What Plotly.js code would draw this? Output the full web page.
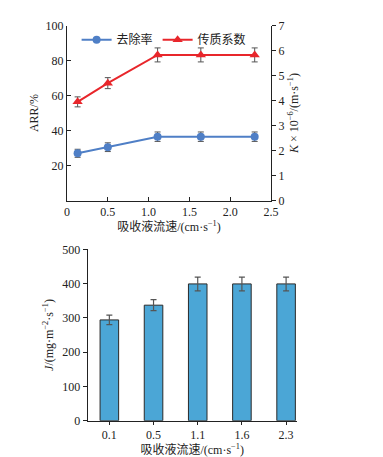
<!DOCTYPE html>
<html>
<head>
<meta charset="utf-8">
<script src="https://cdn.plot.ly/plotly-3.0.1.min.js"></script>
<style>html,body{margin:0;padding:0;background:#fff;}#chart{width:383px;height:457px;}</style>
</head>
<body>
<div id="chart"></div>
<script>
// Top chart data
var flowRates = [0.13, 0.5, 1.11, 1.64, 2.3];
var removalRate = [27, 30.5, 36.5, 36.5, 36.5];
var removalErr = [2.3, 2.5, 2.7, 2.7, 2.7];
var massCoef = [3.95, 4.7, 5.83, 5.83, 5.83];
var massErr = [0.2, 0.22, 0.28, 0.28, 0.28];
var xTickVals = [0, 0.5, 1.0, 1.5, 2.0, 2.5];
var xTickText = ['0', '0.5', '1.0', '1.5', '2.0', '2.5'];
// Bottom chart data
var flowCats = ['0.1', '0.5', '1.1', '1.6', '2.3'];
var fluxVals = [294, 337, 399, 399, 399];
var fluxErr = [14, 16, 20, 20, 20];

var serif = 'Liberation Serif, Noto Sans CJK SC, serif';
var axisCol = '#222';

var traces = [
  {
    x: flowRates, y: removalRate, name: '去除率', type: 'scatter', mode: 'lines+markers',
    line: {color: '#4f7fc6', width: 2}, marker: {color: '#4f7fc6', symbol: 'circle', size: 8},
    error_y: {type: 'data', array: removalErr, color: '#555', thickness: 1, width: 3},
    xaxis: 'x', yaxis: 'y'
  },
  {
    x: flowRates, y: massCoef, name: '传质系数', type: 'scatter', mode: 'lines+markers',
    line: {color: '#e8262b', width: 2}, marker: {color: '#e8262b', symbol: 'triangle-up', size: 9},
    error_y: {type: 'data', array: massErr, color: '#555', thickness: 1, width: 3},
    xaxis: 'x', yaxis: 'y3'
  },
  {
    x: flowCats, y: fluxVals, type: 'bar', showlegend: false,
    marker: {color: '#4ba6d6', line: {color: '#2a2a2a', width: 1}},
    error_y: {type: 'data', array: fluxErr, color: '#555', thickness: 1.2, width: 3},
    xaxis: 'x2', yaxis: 'y2'
  }
];

var layout = {
  width: 383, height: 457,
  margin: {l: 0, r: 0, t: 0, b: 0},
  paper_bgcolor: '#fff', plot_bgcolor: '#fff',
  font: {family: serif, size: 12, color: '#222'},
  showlegend: true,
  legend: {
    orientation: 'h', x: 0.2, y: 0.945, xanchor: 'left', yanchor: 'top',
    font: {family: 'Noto Sans CJK SC, sans-serif', size: 12, color: '#222'},
    bgcolor: 'rgba(0,0,0,0)', itemwidth: 30, tracegroupgap: 0
  },
  bargap: 0.58,
  xaxis: {
    domain: [67/383, 271/383], anchor: 'y', range: [0, 2.5],
    tickvals: xTickVals, ticktext: xTickText,
    showline: true, linecolor: axisCol, linewidth: 1, mirror: false,
    ticks: 'inside', ticklen: 4, tickcolor: axisCol, showgrid: false, zeroline: false,
    tickfont: {family: serif, size: 12},
    title: {text: '吸收液流速/(cm·s<sup>−1</sup>)', font: {family: serif, size: 12}, standoff: 4}
  },
  yaxis: {
    domain: [1 - 200.5/457, 1 - 25.7/457], anchor: 'x', range: [0, 100],
    tickvals: [20, 40, 60, 80, 100],
    showline: true, linecolor: axisCol, linewidth: 1,
    ticks: 'inside', ticklen: 4, tickcolor: axisCol, showgrid: false, zeroline: false,
    tickfont: {family: serif, size: 12},
    title: {text: 'ARR/%', font: {family: serif, size: 12}, standoff: 4}
  },
  yaxis3: {
    overlaying: 'y', side: 'right', anchor: 'x', range: [0, 7],
    tickvals: [0, 1, 2, 3, 4, 5, 6, 7],
    showline: true, linecolor: axisCol, linewidth: 1,
    ticks: 'outside', ticklen: 4, tickcolor: axisCol, showgrid: false, zeroline: false,
    tickfont: {family: serif, size: 12},
    title: {text: '<i>K</i> × 10<sup>−6</sup>/(m·s<sup>−1</sup>)', font: {family: serif, size: 12}, standoff: 6}
  },
  xaxis2: {
    domain: [87.7/383, 296.7/383], anchor: 'y2', type: 'category',
    range: [-0.49, 4.24],
    showline: true, linecolor: axisCol, linewidth: 1,
    ticks: 'outside', ticklen: 3, tickcolor: axisCol, showgrid: false, zeroline: false,
    tickfont: {family: serif, size: 12},
    title: {text: '吸收液流速/(cm·s<sup>−1</sup>)', font: {family: serif, size: 12}, standoff: 1}
  },
  yaxis2: {
    domain: [1 - 420.7/457, 1 - 249.3/457], anchor: 'x2', range: [0, 500],
    tickvals: [0, 100, 200, 300, 400, 500],
    showline: true, linecolor: axisCol, linewidth: 1,
    ticks: 'outside', ticklen: 4, tickcolor: axisCol, showgrid: false, zeroline: false,
    tickfont: {family: serif, size: 12},
    title: {text: '<i>J</i>/(mg·m<sup>−2</sup>·s<sup>−1</sup>)', font: {family: serif, size: 12}, standoff: 6}
  }
};

Plotly.newPlot('chart', traces, layout, {displayModeBar: false, staticPlot: true});
</script>
</body>
</html>
